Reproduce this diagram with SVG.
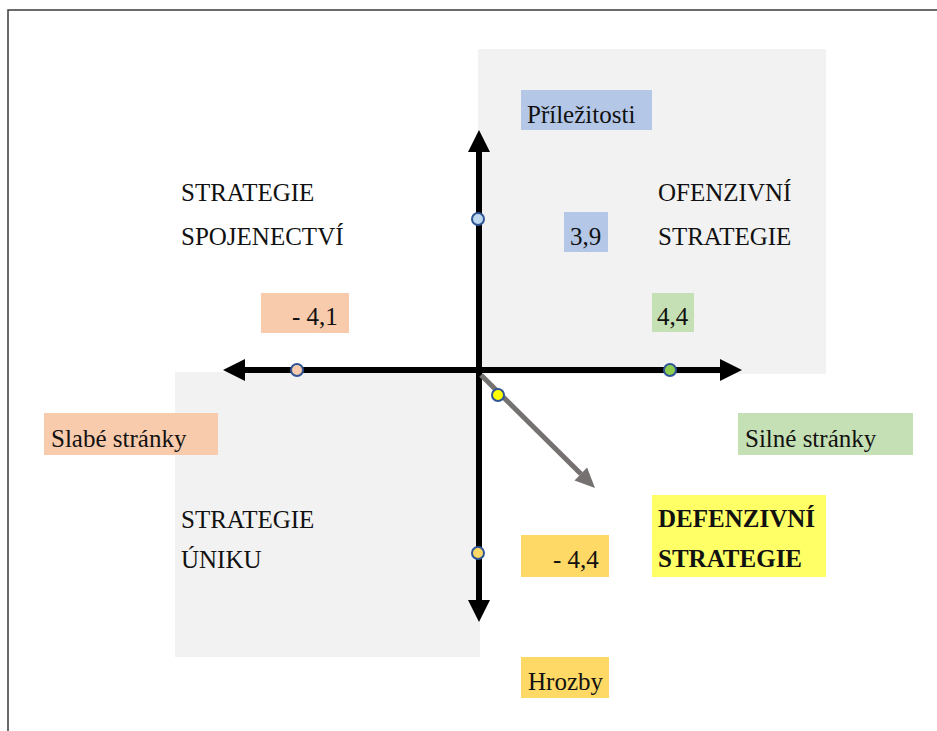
<svg xmlns="http://www.w3.org/2000/svg" width="937" height="731" viewBox="0 0 937 731">
<style>
.t{font-family:"Liberation Serif","Times New Roman",serif;font-size:25px;fill:#111}
.b{font-weight:bold}
.q{fill:#F2F2F2}
.ax{stroke:#000;stroke-width:6;fill:none}
.hd{fill:#000}
.dot{stroke:#2F5597;stroke-width:2}
</style>
<rect x="0" y="0" width="937" height="731" fill="#fff"/>
<rect x="8" y="10" width="940" height="730" fill="none" stroke="#3a3a3a" stroke-width="1.5"/>
<g id="quadrant-offensive"><rect class="q" x="478" y="49" width="348" height="325"/></g>
<g id="quadrant-escape"><rect class="q" x="175" y="372" width="305" height="285"/></g>

<g id="label-prilezitosti"><rect x="521" y="90" width="131" height="40" fill="#B4C7E7"/><text class="t" x="527" y="123">Příležitosti</text></g>
<g id="value-39"><rect x="564" y="212" width="44" height="40" fill="#B4C7E7"/><text class="t" x="570" y="245">3,9</text></g>
<g id="label-spojenectvi"><text class="t" x="181" y="201">STRATEGIE</text><text class="t" x="181" y="245">SPOJENECTVÍ</text></g>
<g id="label-ofenzivni"><text class="t" x="658" y="201">OFENZIVNÍ</text><text class="t" x="658" y="245">STRATEGIE</text></g>
<g id="value-m41"><rect x="261" y="293" width="88" height="40" fill="#F8CBAD"/><text class="t" x="292" y="325">- 4,1</text></g>
<g id="value-44"><rect x="652" y="293" width="42" height="39" fill="#C5E0B4"/><text class="t" x="657" y="325">4,4</text></g>
<g id="label-slabe"><rect x="44" y="413" width="174" height="42" fill="#F8CBAD"/><text class="t" x="51" y="447">Slabé stránky</text></g>
<g id="label-silne"><rect x="738" y="413" width="175" height="42" fill="#C5E0B4"/><text class="t" x="745" y="447">Silné stránky</text></g>
<g id="label-uniku"><text class="t" x="181" y="528">STRATEGIE</text><text class="t" x="181" y="568">ÚNIKU</text></g>
<g id="label-defenzivni"><rect x="652" y="495" width="174" height="82" fill="#FFFF66"/><text class="t b" x="658" y="527">DEFENZIVNÍ</text><text class="t b" x="658" y="567">STRATEGIE</text></g>
<g id="value-m44"><rect x="521" y="535" width="88" height="42" fill="#FFD966"/><text class="t" x="553" y="568">- 4,4</text></g>
<g id="label-hrozby"><rect x="521" y="657" width="88" height="41" fill="#FFD966"/><text class="t" x="528" y="690">Hrozby</text></g>

<g id="connectors">
<line class="ax" x1="479" y1="150" x2="479" y2="602"/>
<polygon class="hd" points="479,130 468,152 490,152"/>
<polygon class="hd" points="479,622 468,600 490,600"/>
<line class="ax" x1="243" y1="370" x2="722" y2="370"/>
<polygon class="hd" points="223,370 245,359 245,381"/>
<polygon class="hd" points="742,370 720,359 720,381"/>
<line x1="481" y1="375" x2="581" y2="474" stroke="#767171" stroke-width="5"/>
<polygon points="595,488 574.5,480.4 587.1,467.6" fill="#767171"/>
</g>
<g id="points">
<circle class="dot" cx="478" cy="219" r="6" fill="#BDD7EE"/>
<circle class="dot" cx="297" cy="370" r="6" fill="#F8CBAD"/>
<circle class="dot" cx="670" cy="370" r="6" fill="#8FCE50"/>
<circle class="dot" cx="478" cy="553" r="6" fill="#FFD966"/>
<circle class="dot" cx="498" cy="395" r="6" fill="#FFFF00"/>
</g>
</svg>
